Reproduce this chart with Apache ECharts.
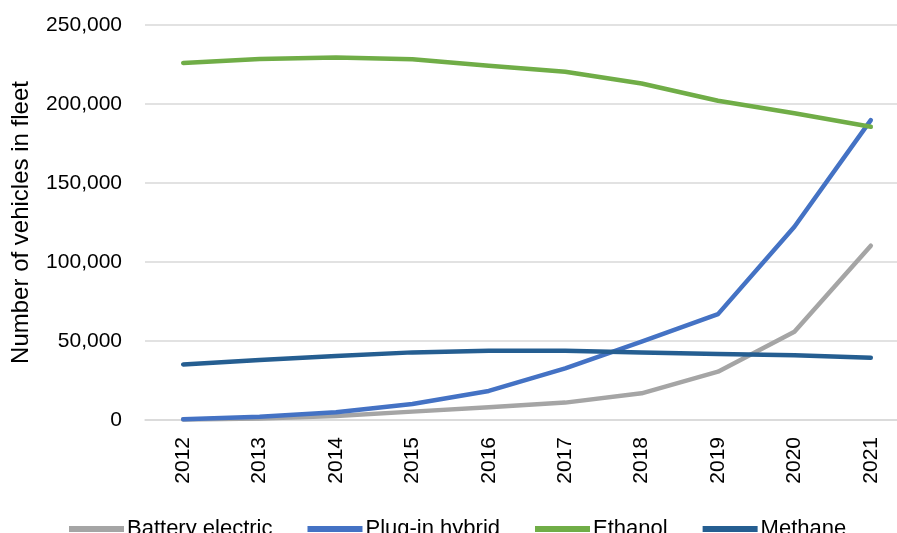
<!DOCTYPE html>
<html>
<head>
<meta charset="utf-8">
<script src="https://cdn.jsdelivr.net/npm/echarts@6/dist/echarts.min.js"></script>
<style>
  html, body { margin: 0; padding: 0; background: #fff; }
  #chart { width: 897px; height: 533px; }
</style>
</head>
<body>
<div id="chart"></div>
<script>
// Vehicle fleet by fuel type, 2012–2021
const years = ['2012', '2013', '2014', '2015', '2016', '2017', '2018', '2019', '2020', '2021'];
const batteryElectric = [300, 1000, 2500, 5300, 8000, 11000, 16900, 30600, 55900, 110300];
const plugInHybrid = [500, 2100, 4900, 10100, 18400, 32700, 49600, 67000, 122300, 189800];
const ethanol = [226000, 228500, 229500, 228300, 224200, 220400, 213000, 202100, 194100, 185600];
const methane = [35200, 38000, 40500, 42800, 43900, 43900, 42800, 41800, 41000, 39400];

const FONT = '"Liberation Sans", Arial, sans-serif';

const chart = echarts.init(document.getElementById('chart'));

function line(name, data, color) {
  return {
    name: name,
    type: 'line',
    data: data,
    symbol: 'none',
    smooth: false,
    lineStyle: { color: color, width: 4.5, cap: 'round', join: 'round' },
    itemStyle: { color: color },
    emphasis: { disabled: true }
  };
}

chart.setOption({
  animation: false,
  grid: {
    left: 145, right: -12, top: 25, bottom: 113,
    containLabel: false,
    outerBoundsMode: 'none'
  },
  legend: {
    left: 64,
    top: 513,
    itemWidth: 55,
    itemHeight: 22,
    itemGap: 35,
    icon: 'path://M0,8 L55,8 L55,14 L0,14 Z',
    textStyle: { fontFamily: FONT, fontSize: 22, color: '#000', padding: [0, 0, 0, -2] },
    data: ['Battery electric', 'Plug-in hybrid', 'Ethanol', 'Methane']
  },
  xAxis: {
    type: 'category',
    data: years,
    boundaryGap: true,
    axisLine: { show: true, lineStyle: { color: '#D9D9D9', width: 1.5 } },
    axisTick: { show: false },
    axisLabel: {
      rotate: 90,
      margin: 17,
      fontFamily: FONT,
      fontSize: 21,
      color: '#000'
    }
  },
  yAxis: {
    type: 'value',
    min: 0,
    max: 250000,
    interval: 50000,
    name: 'Number of vehicles in fleet',
    nameLocation: 'middle',
    nameGap: 112,
    nameRotate: 90,
    nameTextStyle: { fontFamily: FONT, fontSize: 24, color: '#000' },
    axisLine: { show: false },
    axisTick: { show: false },
    splitLine: { lineStyle: { color: '#D9D9D9', width: 1.5 } },
    axisLabel: {
      margin: 23,
      fontFamily: FONT,
      fontSize: 21,
      color: '#000',
      formatter: v => v.toLocaleString('en-US')
    }
  },
  series: [
    line('Battery electric', batteryElectric, '#A5A5A5'),
    line('Plug-in hybrid', plugInHybrid, '#4472C4'),
    line('Ethanol', ethanol, '#70AD47'),
    line('Methane', methane, '#255E91')
  ]
});
</script>
</body>
</html>
